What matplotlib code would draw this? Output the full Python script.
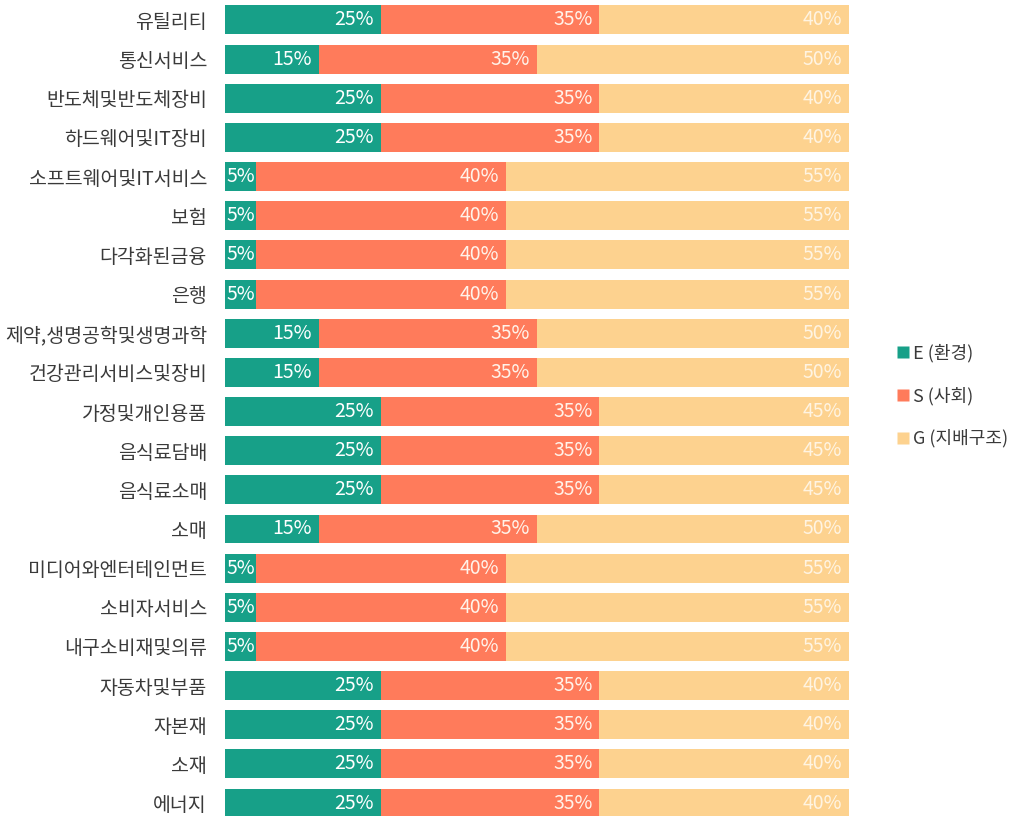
import matplotlib
matplotlib.use('Agg')
from matplotlib import pyplot as plt
from matplotlib.lines import Line2D
import numpy as np

plt.rcParams['font.family'] = ['Noto Sans CJK KR', 'DejaVu Sans']

sectors = ['유틸리티', '통신서비스', '반도체및반도체장비', '하드웨어및IT장비',
           '소프트웨어및IT서비스', '보험', '다각화된금융', '은행',
           '제약,생명공학및생명과학', '건강관리서비스및장비', '가정및개인용품',
           '음식료담배', '음식료소매', '소매', '미디어와엔터테인먼트',
           '소비자서비스', '내구소비재및의류', '자동차및부품', '자본재', '소재', '에너지']
e_vals = [25, 15, 25, 25, 5, 5, 5, 5, 15, 15, 25, 25, 25, 15, 5, 5, 5, 25, 25, 25, 25]
s_vals = [35, 35, 35, 35, 40, 40, 40, 40, 35, 35, 35, 35, 35, 35, 40, 40, 40, 35, 35, 35, 35]
g_vals = [40, 50, 40, 40, 55, 55, 55, 55, 50, 50, 45, 45, 45, 50, 55, 55, 55, 40, 40, 40, 40]
series_names = ['E (환경)', 'S (사회)', 'G (지배구조)']
colors = ['#17a088', '#ff7b5b', '#fdd28f']
label_colors = ['white', '#fff3ea', '#fff4e2']

fig = plt.figure(figsize=(10.22, 8.16), dpi=100)
ax = fig.add_axes([0.2202, 0.0, 0.6106, 1.0])

y = np.arange(len(sectors))
left = np.zeros(len(sectors))
for vals, c, lc in zip([e_vals, s_vals, g_vals], colors, label_colors):
    vals = np.array(vals, dtype=float)
    ax.barh(y, vals, left=left, height=0.74, color=c, edgecolor='none')
    right = left + vals
    for yi, l, r, v in zip(y, left, right, vals):
        if v < 8:
            # too narrow: keep the label inside the segment from its left edge
            ax.annotate(f'{int(v)}%', xy=(l, yi), xytext=(1, 0),
                        textcoords='offset points', ha='left', va='center',
                        fontsize=14, fontweight='medium', color=lc)
        else:
            ax.annotate(f'{int(v)}%', xy=(min(r, 100), yi), xytext=(-5, 0),
                        textcoords='offset points', ha='right', va='center',
                        fontsize=14, fontweight='medium', color=lc)
    left = right

ax.set_xlim(0, 100)
ax.set_ylim(len(sectors) - 1 + 0.33, -0.51)
ax.set_yticks(y)
ax.set_yticklabels(sectors, fontsize=14, color='#3a3a3a')
ax.tick_params(axis='y', length=0, pad=13)
ax.set_xticks([])
for sp in ax.spines.values():
    sp.set_visible(False)

handles = [Line2D([], [], marker='s', linestyle='none', markersize=8,
                  markerfacecolor=c, markeredgecolor='none') for c in colors]
fig.legend(handles, series_names, loc='center left', bbox_to_anchor=(0.862, 0.515),
           frameon=False, fontsize=13, handlelength=0.6, handletextpad=0.3,
           labelspacing=1.35, labelcolor='#3a3a3a')

fig.savefig('out.png', dpi=100)
